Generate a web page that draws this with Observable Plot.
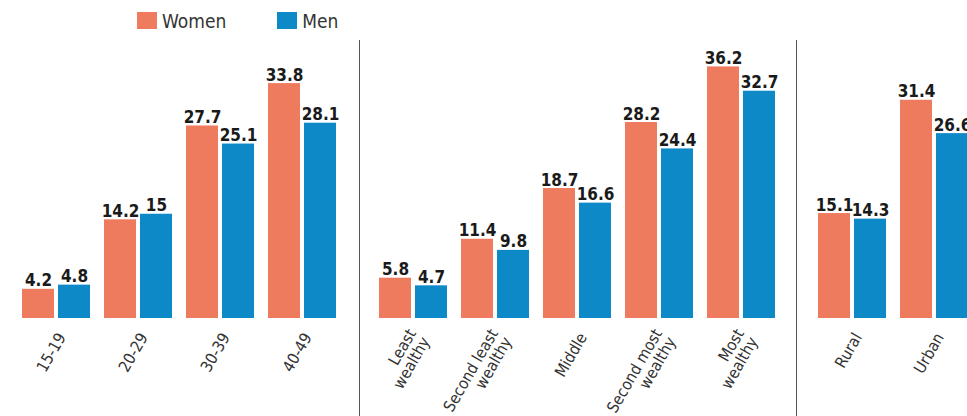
<!DOCTYPE html>
<html><head><meta charset="utf-8">
<script src="https://cdn.jsdelivr.net/npm/d3@7"></script>
<script src="https://cdn.jsdelivr.net/npm/@observablehq/plot@0.6"></script>
<style>
html,body{margin:0;padding:0;background:#fff;width:967px;height:416px;overflow:hidden;}
body{position:relative;font-family:"DejaVu Sans Condensed","DejaVu Sans",sans-serif;font-stretch:condensed;}
#legend{position:absolute;left:137px;top:4px;}
#legend .lg-swatch{margin-right:51px !important;}
#legend .lg-swatch svg{margin-right:5px !important;}
.panel{position:absolute;top:40px;height:376px;overflow:hidden;}
.panel svg{max-width:none !important;height:376px !important;}
#p2,#p3{border-left:1px solid #555;}
</style></head><body>
<div id="legend"></div>
<div id="p1" class="panel" style="left:0;width:359px"></div>
<div id="p2" class="panel" style="left:359px;width:437px"></div>
<div id="p3" class="panel" style="left:796px;width:171px"></div>
<script>
const sexes = ["Women", "Men"];
const colors = ["#ef7b5e", "#0e89c8"];

const ageCats = ["15-19", "20-29", "30-39", "40-49"];
const ageLabels = ["15-19", "20-29", "30-39", "40-49"];
const ageWomen = [4.2, 14.2, 27.7, 33.8];
const ageMen = [4.8, 15, 25.1, 28.1];

const wealthCats = ["Least wealthy", "Second least wealthy", "Middle", "Second most wealthy", "Most wealthy"];
const wealthLabels = ["Least\nwealthy", "Second least\nwealthy", "Middle", "Second most\nwealthy", "Most\nwealthy"];
const wealthWomen = [5.8, 11.4, 18.7, 28.2, 36.2];
const wealthMen = [4.7, 9.8, 16.6, 24.4, 32.7];

const resCats = ["Rural", "Urban"];
const resLabels = ["Rural", "Urban"];
const resWomen = [15.1, 31.4];
const resMen = [14.3, 26.6];

const FONT = '"DejaVu Sans Condensed","DejaVu Sans",sans-serif';

function panel(cats, labels, women, men, width, ml, mr) {
  const rows = cats.flatMap((c, i) => [
    {cat: c, sex: "Women", value: women[i]},
    {cat: c, sex: "Men", value: men[i]}
  ]);
  const ticks = cats.map((c, i) => ({cat: c, label: labels[i]}));
  return Plot.plot({
    width, height: 376,
    marginTop: 0, marginBottom: 98, marginLeft: ml, marginRight: mr,
    style: {fontFamily: FONT, fontStretch: "condensed", background: "transparent", overflow: "visible"},
    fx: {domain: cats, paddingInner: 0.154, paddingOuter: 0, axis: null, label: null},
    x: {domain: sexes, paddingInner: 0.108, paddingOuter: 0, axis: null, label: null},
    y: {domain: [0, 40], axis: null, label: null},
    color: {domain: sexes, range: colors},
    marks: [
      Plot.barY(rows, {fx: "cat", x: "sex", y: "value", fill: "sex"}),
      Plot.text(rows, {fx: "cat", x: "sex", y: "value", text: d => String(d.value),
        lineAnchor: "bottom", dy: -3, fontWeight: "bold", fontSize: 17, fill: "#1a1a1a"}),
      Plot.text(ticks, {fx: "cat", text: "label", frameAnchor: "bottom",
        textAnchor: "end", lineAnchor: "middle", rotate: -60, dx: 5, dy: 16,
        fontSize: 16, fill: "#333"})
    ]
  });
}

document.getElementById("p1").append(panel(ageCats, ageLabels, ageWomen, ageMen, 359, 21, 21));
document.getElementById("p2").append(panel(wealthCats, wealthLabels, wealthWomen, wealthMen, 436, 18, 18));
document.getElementById("p3").append(panel(resCats, resLabels, resWomen, resMen, 176, 21, 3));

document.getElementById("legend").append(Plot.legend({
  color: {type: "ordinal", domain: sexes, range: colors},
  swatchWidth: 20, swatchHeight: 17, className: "lg",
  style: {fontSize: "19px", fontFamily: FONT, color: "#333"}
}));
</script>
</body></html>
